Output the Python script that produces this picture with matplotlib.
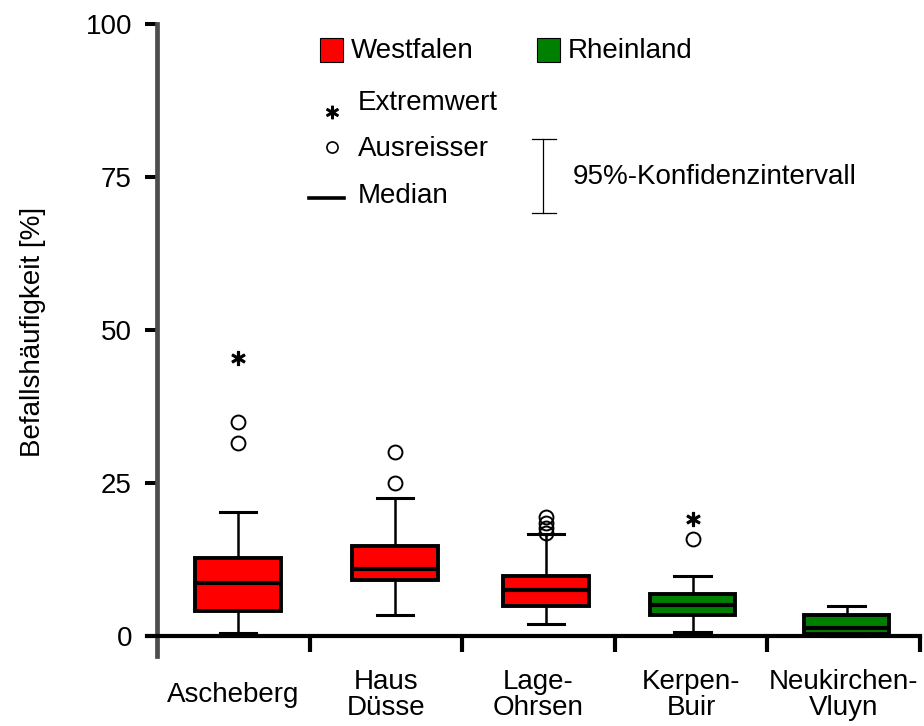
import matplotlib
matplotlib.use("Agg")
import matplotlib.pyplot as plt
from matplotlib.patches import Rectangle
from matplotlib.lines import Line2D

plt.rcParams['font.family'] = ['Liberation Sans', 'DejaVu Sans']
plt.rcParams['font.size'] = 20

# data (Befallshaeufigkeit in %)
sites = ['Ascheberg', 'Haus\nDüsse', 'Lage-\nOhrsen', 'Kerpen-\nBuir', 'Neukirchen-\nVluyn']
region = ['W', 'W', 'W', 'R', 'R']
whis_lo = [0.5, 3.4, 2.0, 0.7, 0.0]
q1 = [4.1, 9.2, 4.9, 3.4, 0.3]
median = [8.7, 10.9, 7.5, 5.1, 1.3]
q3 = [12.7, 14.7, 9.8, 6.9, 3.4]
whis_hi = [20.3, 22.5, 16.7, 9.8, 4.9]
outliers = [[31.5, 35.0], [25.0, 30.1], [16.9, 17.7, 18.5, 19.5], [15.8], []]
extremes = [[45.4], [], [], [19.1], []]

colors = {'W': '#ff0000', 'R': '#008000'}
box_pos = [0.53, 1.56, 2.55, 3.51, 4.52]

W, H = 924, 726
fig = plt.figure(figsize=(W / 100, H / 100), dpi=100)


def px(x, y):
    return x / W, 1 - y / H


ax = fig.add_axes([157 / W, (H - 656) / H, (920 - 157) / W, 632 / H])
ax.set_xlim(0, 5)
ax.set_ylim(-3.27, 100)

stats = []
for i in range(len(sites)):
    stats.append(dict(med=median[i], q1=q1[i], q3=q3[i],
                      whislo=whis_lo[i], whishi=whis_hi[i], fliers=[]))

bp = ax.bxp(stats, positions=box_pos, widths=0.56, capwidths=0.24,
            patch_artist=True, showfliers=False, manage_ticks=False,
            boxprops=dict(edgecolor='black', linewidth=2.8),
            medianprops=dict(color='black', linewidth=3),
            whiskerprops=dict(color='black', linewidth=1.8),
            capprops=dict(color='black', linewidth=2.2))
for patch, r in zip(bp['boxes'], region):
    patch.set_facecolor(colors[r])

for i, p in enumerate(box_pos):
    if outliers[i]:
        ax.plot([p] * len(outliers[i]), outliers[i], linestyle='none', marker='o',
                markersize=10, markerfacecolor='none', markeredgecolor='black',
                markeredgewidth=1.4, clip_on=False, zorder=5)
    if extremes[i]:
        ax.plot([p] * len(extremes[i]), extremes[i], linestyle='none', marker=r'$\ast$',
                markersize=10, color='black', clip_on=False, zorder=5)

# axes styling
for s in ['top', 'right']:
    ax.spines[s].set_visible(False)
ax.spines['left'].set_color('#4d4d4d')
ax.spines['left'].set_linewidth(3.4)
ax.spines['bottom'].set_position(('data', 0))
ax.spines['bottom'].set_bounds(-0.066, 5)
ax.spines['bottom'].set_linewidth(3)
ax.spines['bottom'].set_zorder(4)

ax.set_yticks([0, 25, 50, 75, 100])
ax.tick_params(axis='y', length=9, width=2.9, color='black', pad=9, labelsize=20)
ax.set_xticks([1, 2, 3, 4, 5])
ax.set_xticklabels([])
ax.tick_params(axis='x', length=11.5, width=3, color='black')

for i, s in enumerate(sites):
    ax.text(i + 0.5, -9.6, s, ha='center', va='center', fontsize=20,
            linespacing=1.0, clip_on=False)

fig.text(*px(33, 332), 'Befallshäufigkeit [%]', rotation=90, ha='center',
         va='center', fontsize=20)

# legend drawn by hand like the original
for x0, name, r in [(320, 'Westfalen', 'W'), (537, 'Rheinland', 'R')]:
    fig.patches.append(Rectangle(px(x0, 62), 23 / W, 24 / H, transform=fig.transFigure,
                                 facecolor=colors[r], edgecolor='black', linewidth=0.8))
    fig.text(*px(x0 + 31, 51), name, ha='left', va='center', fontsize=20)

fig.add_artist(Line2D([px(332, 0)[0]], [px(0, 112)[1]], marker=r'$\ast$', markersize=9,
                      color='black', linestyle='none'))
fig.text(*px(358, 103), 'Extremwert', ha='left', va='center', fontsize=20)
fig.add_artist(Line2D([px(332, 0)[0]], [px(0, 147)[1]], marker='o', markersize=8,
                      markerfacecolor='none', markeredgecolor='black',
                      markeredgewidth=1.2, linestyle='none'))
fig.text(*px(358, 149), 'Ausreisser', ha='left', va='center', fontsize=20)
fig.add_artist(Line2D([309 / W, 344 / W], [px(0, 198)[1]] * 2, color='black', linewidth=2.6))
fig.text(*px(358, 196), 'Median', ha='left', va='center', fontsize=20)

# confidence interval symbol
fig.add_artist(Line2D([543 / W] * 2, [px(0, 139)[1], px(0, 213)[1]], color='black', linewidth=0.9))
for yy in (139, 213):
    fig.add_artist(Line2D([532 / W, 556 / W], [px(0, yy)[1]] * 2, color='black', linewidth=0.9))
fig.text(*px(573, 177), '95%-Konfidenzintervall', ha='left', va='center', fontsize=20)

fig.savefig('out.png', dpi=100)
